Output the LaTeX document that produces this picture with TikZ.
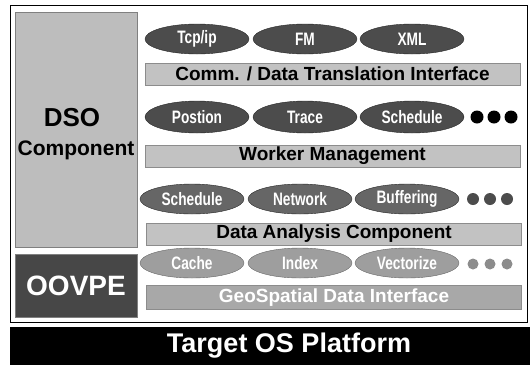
\documentclass[tikz,border=0pt]{standalone}
\usepackage{fontspec}
\setmainfont{Liberation Sans}
\newfontfamily\narrowfont[FakeStretch=0.76]{Liberation Sans}
\usetikzlibrary{shapes.geometric}
\definecolor{panelgray}{gray}{0.74}
\definecolor{bargray}{gray}{0.76}
\definecolor{ovaldark}{gray}{0.30}
\definecolor{ovalmid}{gray}{0.40}
\definecolor{ovallight}{gray}{0.62}
\tikzset{
  oval/.style={ellipse,draw=black!85,fill=ovaldark,text=white,inner sep=0pt,
    minimum width=104pt,minimum height=30pt,
    font=\narrowfont\bfseries\fontsize{18}{18}\selectfont},
  layerbar/.style={rectangle,draw=black!45,fill=bargray,inner sep=0pt,
    minimum width=375pt,minimum height=22pt,
    font=\bfseries\fontsize{19}{19}\selectfont},
  panel/.style={rectangle,draw=black!50,inner sep=0pt,minimum width=122pt},
  dot/.style={circle,fill,inner sep=0pt,minimum size=13pt}
}
\begin{document}
\begin{tikzpicture}[x=1pt,y=-1pt]
  \useasboundingbox (0,0) rectangle (530,365);
  % outer frame
  \node[rectangle,draw,line width=1pt,minimum width=517pt,minimum height=317pt,inner sep=0pt] (frame) at (268.5,163.5) {};

  % left side
  \node[panel,fill=panelgray,minimum height=235pt] (dso) at (76,129.5) {};
  \node[font=\bfseries\fontsize{26}{26}\selectfont] (dsoname) at (72,118) {DSO};
  \node[font=\bfseries\fontsize{21}{21}\selectfont] (dsocomp) at (76,150) {Component};
  \node[panel,fill=black!72,text=white,minimum height=63pt,
    font=\bfseries\fontsize{28}{28}\selectfont] (oovpe) at (76,285.5) {OOVPE};

  % row 1
  \node[oval] (tcp) at (197,39) {Tcp/ip};
  \node[oval] (fm) at (305,39) {FM};
  \node[oval] (xml) at (412,39) {XML};
  \node[layerbar] (comm) at (332.5,74) {Comm. / Data Translation Interface};

  % row 2
  \node[oval,minimum height=32pt] (postion) at (197,117) {Postion};
  \node[oval,minimum height=32pt] (trace) at (305,117) {Trace};
  \node[oval,minimum height=32pt] (sched) at (412,117) {Schedule};
  \node[dot] (d21) at (477,117) {};
  \node[dot] (d22) at (494,117) {};
  \node[dot] (d23) at (511,117) {};
  \node[layerbar] (worker) at (332.5,156) {Worker Management};

  % row 3
  \node[oval,fill=ovalmid] (sched3) at (192,199) {Schedule};
  \node[oval,fill=ovalmid] (network) at (300,199) {Network};
  \node[oval,fill=ovalmid] (buffer) at (407,199) {Buffering};
  \node[dot,fill=black!70,minimum size=12pt] (d31) at (473,199) {};
  \node[dot,fill=black!70,minimum size=12pt] (d32) at (490,199) {};
  \node[dot,fill=black!70,minimum size=12pt] (d33) at (507,199) {};
  \node[layerbar] (analysis) at (334,234) {Data Analysis Component};

  % row 4
  \node[oval,fill=ovallight,draw=black!60] (cache) at (192,263) {Cache};
  \node[oval,fill=ovallight,draw=black!60] (index) at (300,263) {Index};
  \node[oval,fill=ovallight,draw=black!60] (vector) at (407,263) {Vectorize};
  \node[dot,fill=black!45,minimum size=11pt] (d41) at (473,264) {};
  \node[dot,fill=black!45,minimum size=11pt] (d42) at (490,264) {};
  \node[dot,fill=black!45,minimum size=11pt] (d43) at (507,264) {};
  \node[layerbar,fill=black!34,text=white,minimum height=24pt] (geo) at (334,297.5) {GeoSpatial Data Interface};

  % platform
  \node[rectangle,fill=black,inner sep=0pt,minimum width=520pt,minimum height=38pt] (target) at (270,346) {};
  \node[text=white,font=\bfseries\fontsize{27}{27}\selectfont] (targetname) at (289,346) {Target OS Platform};
\end{tikzpicture}
\end{document}
